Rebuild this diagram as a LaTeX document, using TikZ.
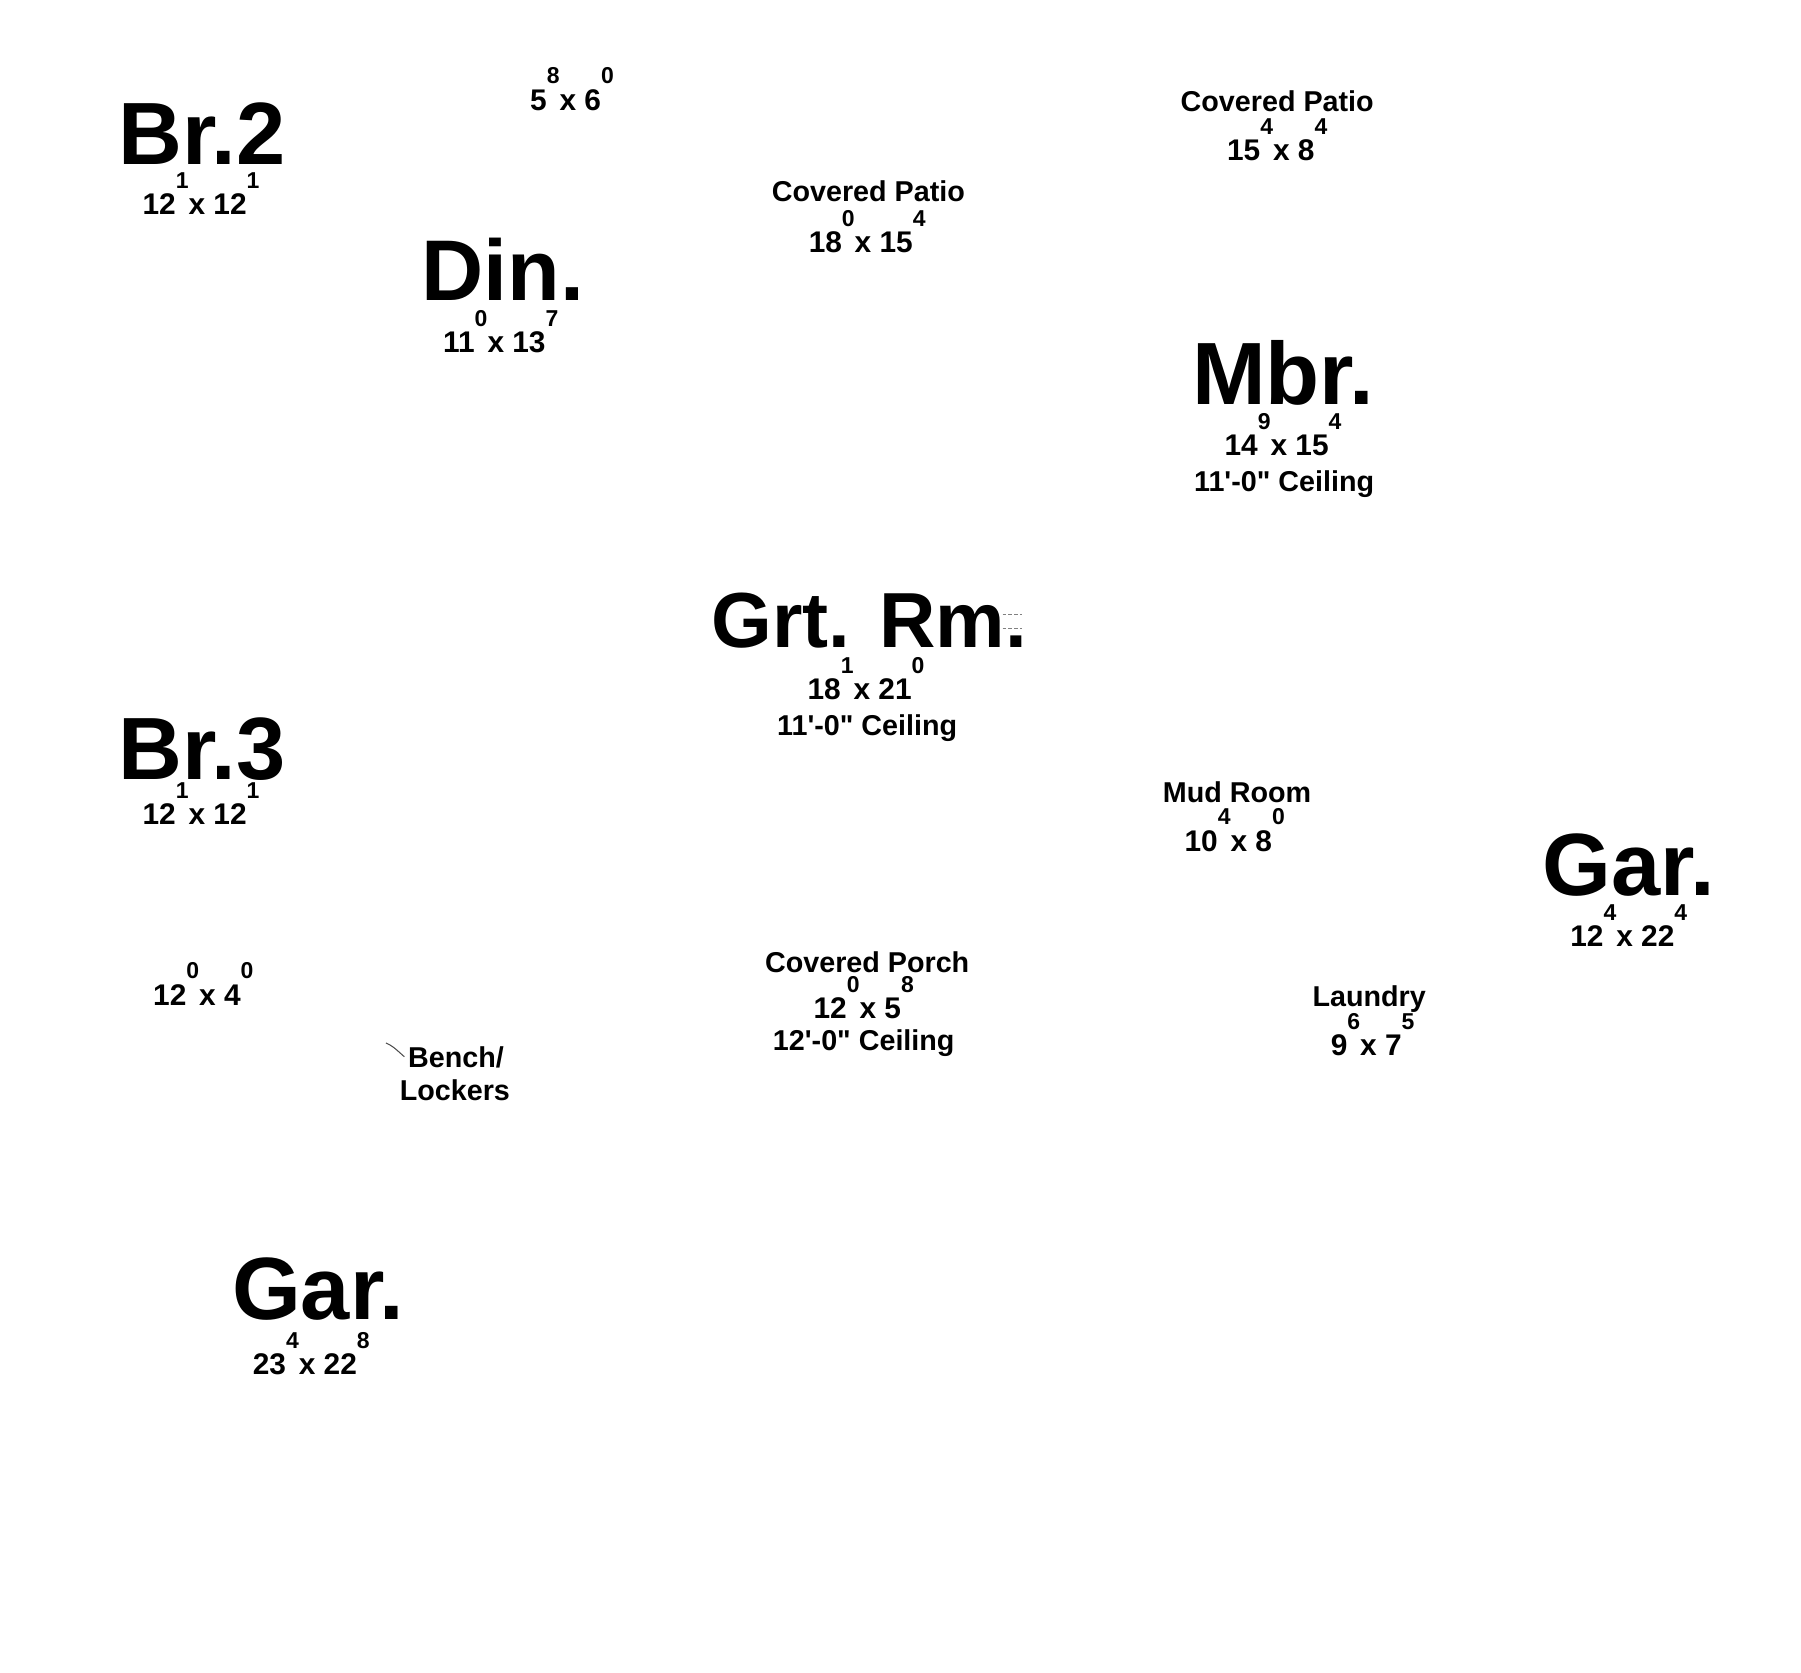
\documentclass[tikz,border=0pt]{standalone}
\usepackage{fontspec}
\setmainfont{Liberation Sans}[Ligatures=TeXOff]
\newcommand\sps[1]{\raisebox{23pt}{\fontsize{20}{20}\selectfont #1}}
\tikzset{
  room/.style={anchor=base, inner sep=0pt, font=\fontsize{77}{77}\selectfont\bfseries},
  dimtext/.style={anchor=base, inner sep=0pt, font=\fontsize{26}{26}\selectfont\bfseries},
  lbl/.style={anchor=base, inner sep=0pt, font=\fontsize{25}{25}\selectfont\bfseries}
}
\begin{document}
\begin{tikzpicture}[x=1pt,y=-1pt]
\useasboundingbox (0,0) rectangle (1568,1456);
\fill[white] (0,0) rectangle (1568,1456);
% Br.2
\node[room] (br2) at (176,143) {Br.2};
\node[dimtext] (br2d) at (175,187) {12\sps{1}x 12\sps{1}};
% small dims
\node[dimtext] (s56) at (498,96) {5\sps{8}x 6\sps{0}};
% Covered patio mid
\node[lbl] (cp1) at (756,175) {Covered Patio};
\node[dimtext] (cp1d) at (755,220) {18\sps{0}x 15\sps{4}};
% Covered patio right
\node[lbl] (cp2) at (1112,97) {Covered Patio};
\node[dimtext] (cp2d) at (1112,140) {15\sps{4}x 8\sps{4}};
% Din
\node[room, font=\fontsize{75}{75}\selectfont\bfseries] (din) at (438,262) {Din.};
\node[dimtext] (dind) at (436,307) {11\sps{0}x 13\sps{7}};
% Mbr
\node[room] (mbr) at (1117,352) {Mbr.};
\node[dimtext] (mbrd) at (1117,397) {14\sps{9}x 15\sps{4}};
\node[lbl] (mbrc) at (1118,428) {11'-0" Ceiling};
% Grt Rm
\node[room, font=\fontsize{68}{68}\selectfont\bfseries] (grt) at (757,564) {Grt. Rm.};
\node[dimtext] (grtd) at (754,609) {18\sps{1}x 21\sps{0}};
\node[lbl] (grtc) at (755,640) {11'-0" Ceiling};
\draw[gray, line width=0.8pt, dash pattern=on 3pt off 2pt] (873,535) -- (890,535);
\draw[gray, line width=0.8pt, dash pattern=on 3pt off 2pt] (873,547) -- (890,547);
% Br.3
\node[room] (br3) at (176,679) {Br.3};
\node[dimtext] (br3d) at (175,718) {12\sps{1}x 12\sps{1}};
% Mud room
\node[lbl] (mud) at (1077,699) {Mud Room};
\node[dimtext] (mudd) at (1075,741) {10\sps{4}x 8\sps{0}};
% Gar right
\node[room] (gar1) at (1418,780) {Gar.};
\node[dimtext] (gar1d) at (1418,824) {12\sps{4}x 22\sps{4}};
% 12x4
\node[dimtext] (s124) at (177,875) {12\sps{0}x 4\sps{0}};
% Covered porch
\node[lbl] (cpo) at (755,847) {Covered Porch};
\node[dimtext] (cpod) at (752,887) {12\sps{0}x 5\sps{8}};
\node[lbl] (cpoc) at (752,915) {12'-0" Ceiling};
% Laundry
\node[lbl] (lau) at (1192,876) {Laundry};
\node[dimtext] (laud) at (1195,919) {9\sps{6}x 7\sps{5}};
% Bench
\node[lbl] (ben1) at (397,929) {Bench/};
\node[lbl] (ben2) at (396,958) {Lockers};
\coordinate (bc1) at (336,908);
\coordinate (bc2) at (352,920);
\draw[black!70, line width=0.9pt] (bc1) .. controls (342,911) .. (bc2);
% Gar lower
\node[room] (gar2) at (277,1149) {Gar.};
\node[dimtext] (gar2d) at (271,1197) {23\sps{4}x 22\sps{8}};
\end{tikzpicture}
\end{document}
